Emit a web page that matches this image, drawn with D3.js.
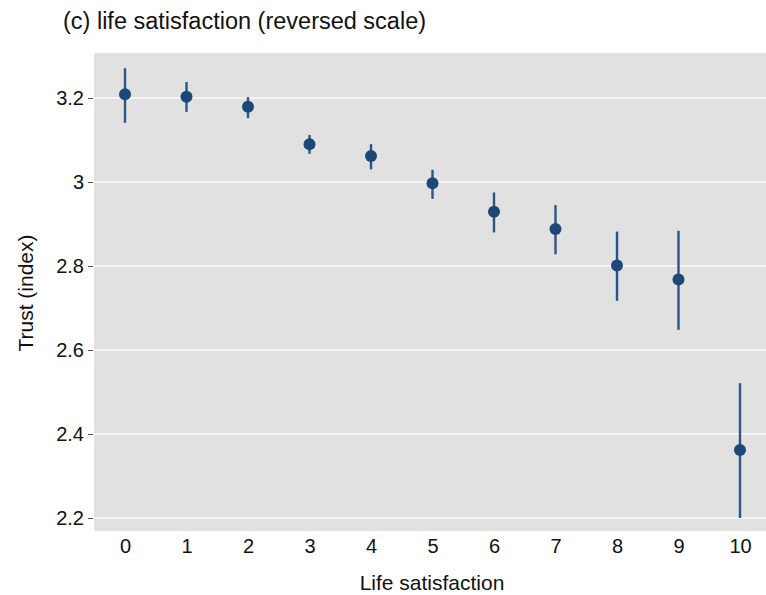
<!DOCTYPE html>
<html>
  <head>
    <meta http-equiv="Content-Type" content="text/html;charset=utf-8" />
    <title>Trust by life satisfaction</title>
    <style>
      body {
        margin: 0;
        background: #fff;
        font-family: "Liberation Sans", Arial, sans-serif;
      }
      .grid line {
        stroke: #f4f4f4;
        stroke-width: 2px;
      }
      .axis text {
        font-size: 20px;
        fill: #111;
      }
      .axis path {
        display: none;
      }
      .axis line {
        stroke: #555;
      }
      text.title {
        font-size: 23.5px;
        fill: #111;
      }
      text.label {
        font-size: 21px;
        fill: #111;
      }
    </style>
    <script src="https://d3js.org/d3.v7.min.js"></script>
  </head>
  <body>
    <div id="chart"></div>
    <script type="text/javascript">
      const width = 766,
        height = 595;

      // life satisfaction 0..10, trust index estimate with 95% CI
      const levels = [0, 1, 2, 3, 4, 5, 6, 7, 8, 9, 10];
      const trust = [3.209, 3.203, 3.179, 3.09, 3.062, 2.997, 2.929, 2.888, 2.801, 2.768, 2.362];
      const ciLow = [3.141, 3.167, 3.152, 3.067, 3.03, 2.96, 2.88, 2.828, 2.717, 2.648, 2.2];
      const ciHigh = [3.271, 3.238, 3.202, 3.112, 3.09, 3.029, 2.975, 2.945, 2.882, 2.884, 2.521];
      const yTicks = [2.2, 2.4, 2.6, 2.8, 3, 3.2];

      const panel = { left: 94, right: 766, top: 53, bottom: 531 };

      const x = d3.scaleLinear().domain([0, 10]).range([125, 740]);
      const y = d3.scaleLinear().domain([2.2, 3.2]).range([518, 98]);

      const data = levels.map(function (d, i) {
        return { level: d, value: trust[i], lo: ciLow[i], hi: ciHigh[i] };
      });

      const svg = d3
        .select("#chart")
        .append("svg")
        .attr("width", width)
        .attr("height", height);

      svg
        .append("rect")
        .attr("x", panel.left)
        .attr("y", panel.top)
        .attr("width", panel.right - panel.left)
        .attr("height", panel.bottom - panel.top)
        .style("fill", "#e1e1e1");

      //- horizontal grid lines
      svg
        .append("g")
        .attr("class", "grid")
        .selectAll("line")
        .data(yTicks)
        .enter()
        .append("line")
        .attr("x1", panel.left)
        .attr("x2", panel.right)
        .attr("y1", function (d) {
          return y(d);
        })
        .attr("y2", function (d) {
          return y(d);
        });

      //- axes
      svg
        .append("g")
        .attr("class", "axis")
        .attr("transform", "translate(" + (panel.left - 1) + ",0)")
        .call(
          d3
            .axisLeft(y)
            .tickValues(yTicks)
            .tickSize(5)
            .tickPadding(4)
            .tickFormat(d3.format("~g"))
        );

      svg
        .append("g")
        .attr("class", "axis")
        .attr("transform", "translate(0," + panel.bottom + ")")
        .call(d3.axisBottom(x).tickValues(levels).tickSize(0).tickPadding(8))
        .selectAll("line")
        .remove();

      //- confidence intervals
      svg
        .selectAll("line.ci")
        .data(data)
        .enter()
        .append("line")
        .attr("class", "ci")
        .attr("x1", function (d) {
          return x(d.level);
        })
        .attr("x2", function (d) {
          return x(d.level);
        })
        .attr("y1", function (d) {
          return y(d.lo);
        })
        .attr("y2", function (d) {
          return y(d.hi);
        })
        .style("stroke", "#2b5683")
        .style("stroke-width", 2.4);

      //- point estimates
      svg
        .selectAll("circle.pt")
        .data(data)
        .enter()
        .append("circle")
        .attr("class", "pt")
        .attr("cx", function (d) {
          return x(d.level);
        })
        .attr("cy", function (d) {
          return y(d.value);
        })
        .attr("r", 6)
        .style("fill", "#1b4878");

      //- titles
      svg
        .append("text")
        .attr("class", "title")
        .attr("x", 63)
        .attr("y", 29)
        .text("(c) life satisfaction (reversed scale)");

      svg
        .append("text")
        .attr("class", "label")
        .attr("x", 432)
        .attr("y", 590)
        .style("text-anchor", "middle")
        .text("Life satisfaction");

      svg
        .append("text")
        .attr("class", "label")
        .attr("transform", "translate(33,293) rotate(-90)")
        .style("text-anchor", "middle")
        .text("Trust (index)");
    </script>
  </body>
</html>
